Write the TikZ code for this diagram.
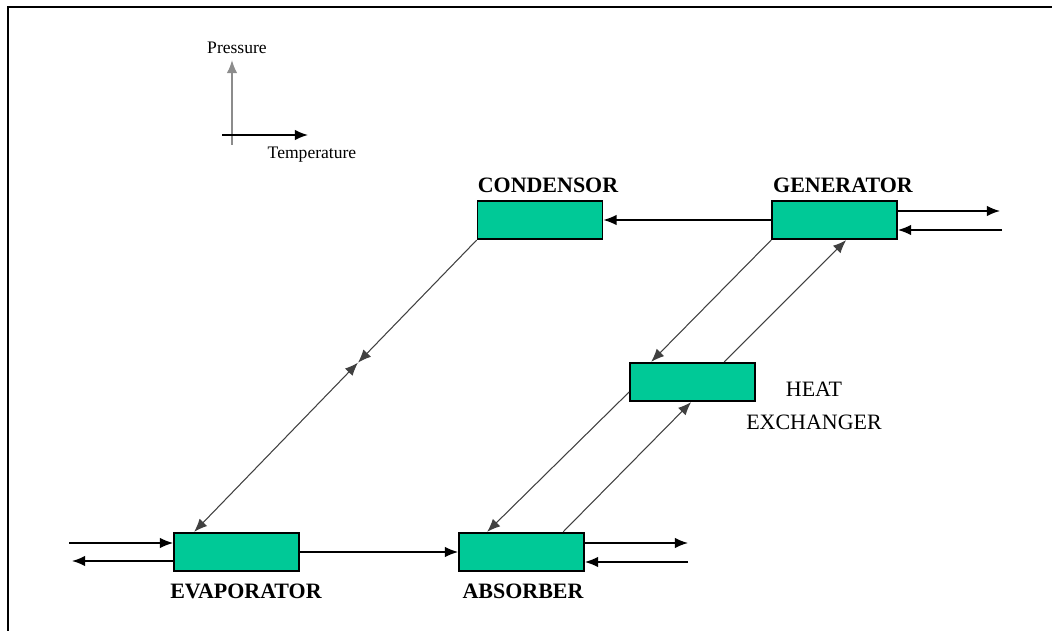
\documentclass[tikz,border=0pt]{standalone}
\usepackage{fontspec}
\setmainfont{Liberation Serif}
\usetikzlibrary{calc,arrows.meta}
\definecolor{boxgreen}{RGB}{0,201,151}

\begin{document}
\begin{tikzpicture}[x=0.02cm,y=-0.02cm,>={Latex[length=7.5pt,width=6pt]},
	unit/.style={draw,line width=1pt,fill=boxgreen,minimum width=2.5cm,minimum height=0.77cm,inner sep=0pt},
	unitname/.style={font=\bfseries\fontsize{12.5}{15}\selectfont,inner sep=0pt},
	axisname/.style={font=\fontsize{10}{12}\selectfont,inner sep=0pt},
	flow/.style={->,line width=0.85pt},
	pipe/.style={->,line width=0.6pt,black!75}]

\useasboundingbox (0,0) rectangle (1052,631);
\draw[line width=1.1pt] (8,631) -- (8,7) -- (1052,7);

% axes
\coordinate (vbot) at (232,145);
\coordinate (vtop) at (232,60);
\coordinate (hleft) at (222,135);
\coordinate (hright) at (308,135);
\draw[->,line width=1pt,black!45] (vbot) -- (vtop);
\draw[->,line width=0.9pt] (hleft) -- (hright);
\node[axisname] (plbl) at (237,48) {Pressure};
\node[axisname] (tlbl) at (312,155) {Temperature};

% units
\node[unit] (cond) at (540,220) {};
\node[unit] (gen) at (834.5,220) {};
\node[unit] (hx) at (692.5,382) {};
\node[unit] (evap) at (236.5,552) {};
\node[unit] (abs) at (521.5,552) {};

\node[unitname] (condlbl) at (548,185) {CONDENSOR};
\node[unitname] (genlbl) at (843,185) {GENERATOR};
\node[unitname] (evaplbl) at (246,591) {EVAPORATOR};
\node[unitname] (abslbl) at (523,591) {ABSORBER};
\node[font=\fontsize{12.5}{19}\selectfont,align=center,inner sep=0pt] (hxlbl) at (814,406) {HEAT\\EXCHANGER};

% external streams
\coordinate (genout) at (1000,211);
\coordinate (genin) at (1002,230);
\coordinate (absout) at (688,543);
\coordinate (absin) at (688,562);
\coordinate (evapin) at (69,543);
\coordinate (evapout) at (72,561);

\draw[flow] (gen.east |- genout) -- (genout);
\draw[flow] (genin) -- (gen.east |- genin);
\draw[flow] (abs.east |- absout) -- (absout);
\draw[flow] (absin) -- (abs.east |- absin);
\draw[flow] (evapin) -- (evap.west |- evapin);
\draw[flow] (evap.west |- evapout) -- (evapout);

\draw[flow] (gen.west) -- (cond.east);
\draw[flow] (evap.east) -- (abs.west);

% refrigerant and solution lines
\coordinate (evaptop) at ($(evap.north west)+(21,0)$);
\coordinate (mid) at ($(cond.south west)!0.42!(evaptop)$);
\draw[pipe] (cond.south west) -- (mid);
\draw[pipe,<->] (mid) -- (evaptop);

\draw[pipe] (gen.south west) -- ($(hx.north west)+(22,0)$);
\draw[pipe] ($(hx.north west)+(95,0)$) -- ($(gen.south west)+(75,0)$);
\draw[pipe] ($(hx.west)+(0,10)$) -- ($(abs.north west)+(29,0)$);
\draw[pipe] ($(abs.north west)+(105,0)$) -- ($(hx.south west)+(62,0)$);

\end{tikzpicture}
\end{document}
